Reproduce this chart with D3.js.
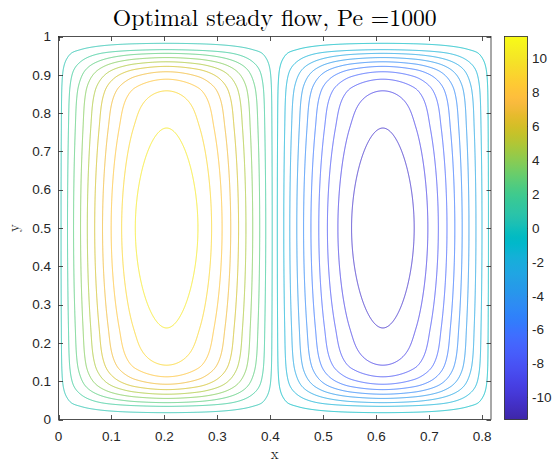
<!DOCTYPE html>
<html>
<head>
<meta charset="utf-8">
<script src="https://cdn.jsdelivr.net/npm/d3@7"></script>
<style>
  html, body { margin: 0; padding: 0; background: #ffffff; }
  svg { display: block; }
</style>
</head>
<body>
<svg id="chart" width="553" height="462"></svg>
<script>
// ---------------- data ----------------
const domainX = [0, 0.8165];
const domainY = [0, 1];
const cellWall = 0.40825;           // boundary between the two cells
const psiMax = 11.3;                // colour limits are [-psiMax, psiMax]
// contour levels (20 levels, 10 per cell)
const levels = [-10.224, -9.148, -8.071, -6.995, -5.919, -4.843, -3.767, -2.690, -1.614, -0.538,
                 0.538, 1.614, 2.690, 3.767, 4.843, 5.919, 6.995, 8.071, 9.148, 10.224];
// distance from side wall where each positive level (ascending) crosses y = 0.5
const xCross = [0.0048, 0.0170, 0.0284, 0.0416, 0.0544, 0.0683, 0.0831, 0.0994, 0.1192, 0.1450];
// distance from top/bottom wall where each level crosses the cell centre line
const yCross = [0.0178, 0.0343, 0.0440, 0.0550, 0.0660, 0.0780, 0.0920, 0.1115, 0.1418, 0.2390];
const xTicks = [0, 0.1, 0.2, 0.3, 0.4, 0.5, 0.6, 0.7, 0.8];
const yTicks = [0, 0.1, 0.2, 0.3, 0.4, 0.5, 0.6, 0.7, 0.8, 0.9, 1];
const cTicks = [-10, -8, -6, -4, -2, 0, 2, 4, 6, 8, 10];
const titleText = "Optimal steady flow, Pe =1000";
const xLabel = "x", yLabel = "y";
// MATLAB parula colormap (64 entries)
const parulaColors = [
[0.2422,0.1504,0.6603],[0.2504,0.1650,0.7076],[0.2578,0.1818,0.7511],[0.2647,0.1978,0.7952],
[0.2706,0.2147,0.8364],[0.2751,0.2342,0.8710],[0.2783,0.2559,0.8991],[0.2803,0.2782,0.9221],
[0.2813,0.3006,0.9414],[0.2810,0.3228,0.9579],[0.2795,0.3447,0.9717],[0.2760,0.3667,0.9829],
[0.2699,0.3892,0.9906],[0.2602,0.4123,0.9952],[0.2440,0.4358,0.9988],[0.2206,0.4603,0.9973],
[0.1963,0.4847,0.9892],[0.1834,0.5074,0.9798],[0.1786,0.5289,0.9682],[0.1764,0.5499,0.9520],
[0.1687,0.5703,0.9359],[0.1540,0.5902,0.9218],[0.1460,0.6091,0.9079],[0.1380,0.6276,0.8973],
[0.1248,0.6459,0.8883],[0.1113,0.6635,0.8763],[0.0952,0.6798,0.8598],[0.0689,0.6948,0.8394],
[0.0297,0.7082,0.8163],[0.0036,0.7203,0.7917],[0.0067,0.7312,0.7660],[0.0433,0.7411,0.7394],
[0.0964,0.7500,0.7120],[0.1408,0.7584,0.6842],[0.1717,0.7670,0.6554],[0.1938,0.7758,0.6251],
[0.2161,0.7843,0.5923],[0.2470,0.7918,0.5567],[0.2906,0.7973,0.5188],[0.3406,0.8008,0.4789],
[0.3909,0.8029,0.4354],[0.4456,0.8024,0.3909],[0.5044,0.7993,0.3480],[0.5616,0.7942,0.3045],
[0.6174,0.7876,0.2612],[0.6720,0.7793,0.2227],[0.7242,0.7698,0.1910],[0.7738,0.7598,0.1646],
[0.8203,0.7498,0.1535],[0.8634,0.7406,0.1596],[0.9035,0.7330,0.1774],[0.9393,0.7288,0.2100],
[0.9728,0.7298,0.2394],[0.9956,0.7434,0.2371],[0.9970,0.7659,0.2199],[0.9952,0.7893,0.2028],
[0.9892,0.8136,0.1885],[0.9786,0.8386,0.1766],[0.9676,0.8639,0.1643],[0.9610,0.8890,0.1537],
[0.9597,0.9135,0.1423],[0.9628,0.9373,0.1265],[0.9691,0.9606,0.1064],[0.9769,0.9839,0.0805]];

// ---------------- layout ----------------
const plot = { left: 58.5, right: 491, top: 36.5, bottom: 419.5 };
const cbar = { left: 504.5, right: 527.5 };
const axisColor = "#262626";
const sans = "'Liberation Sans', Arial, Helvetica, sans-serif";
const serif = "'Latin Modern Roman', 'CMU Serif', 'Liberation Serif', 'Times New Roman', serif";

const svg = d3.select("#chart");
const xScale = d3.scaleLinear().domain(domainX).range([plot.left, plot.right]);
const yScale = d3.scaleLinear().domain(domainY).range([plot.bottom, plot.top]);
const cScale = d3.scaleLinear().domain([-psiMax, psiMax]).range([plot.bottom, plot.top]);
const parula = d3.piecewise(d3.interpolateRgb, parulaColors.map(c => d3.rgb(c[0]*255, c[1]*255, c[2]*255)));
const colorOf = v => parula((v + psiMax) / (2 * psiMax));

// ---------- monotone cubic profile through measured crossings ----------
function monotone(xs, ys, endSlope) {
  const n = xs.length, m = [], t = new Array(n);
  for (let k = 0; k < n - 1; k++) m.push((ys[k+1]-ys[k])/(xs[k+1]-xs[k]));
  t[0] = m[0]; t[n-1] = endSlope;
  for (let k = 1; k < n - 1; k++) t[k] = (m[k-1]*m[k] <= 0) ? 0 : (m[k-1]+m[k])/2;
  for (let k = 0; k < n - 1; k++) {
    if (m[k] === 0) { t[k] = 0; t[k+1] = 0; continue; }
    const a = t[k]/m[k], b = t[k+1]/m[k], s = a*a + b*b;
    if (s > 9) { const tau = 3/Math.sqrt(s); t[k] = tau*a*m[k]; t[k+1] = tau*b*m[k]; }
  }
  return function(x) {
    if (x <= xs[0]) return ys[0];
    if (x >= xs[n-1]) return ys[n-1];
    let k = 0; while (x > xs[k+1]) k++;
    const h = xs[k+1]-xs[k], s = (x-xs[k])/h;
    const h00 = 2*s*s*s - 3*s*s + 1, h10 = s*s*s - 2*s*s + s, h01 = -2*s*s*s + 3*s*s, h11 = s*s*s - s*s;
    return h00*ys[k] + h10*h*t[k] + h01*ys[k+1] + h11*h*t[k+1];
  };
}
const posLevels = levels.filter(v => v > 0);
const rel = posLevels.map(v => v / psiMax);
const Fx = monotone([0, ...xCross, cellWall/2], [0, ...rel, 1], 0);
const Gy = monotone([0, ...yCross, 0.5], [0, ...rel, 1], 0);

// ---------- gridded stream function ----------
const nx = 866, ny = 766;
const values = new Float64Array(nx * ny);
const fCol = new Float64Array(nx), sCol = new Float64Array(nx), gRow = new Float64Array(ny);
for (let i = 0; i < nx; i++) {
  const x = (i + 0.5) / nx * domainX[1];
  let d, s;
  if (x < cellWall) { d = Math.min(x, cellWall - x); s = 1; }
  else { d = Math.min(x - cellWall, domainX[1] - x); s = -1; }
  fCol[i] = Fx(d); sCol[i] = s;
}
for (let j = 0; j < ny; j++) {
  const y = 1 - (j + 0.5) / ny;
  gRow[j] = Gy(Math.min(y, 1 - y));
}
for (let j = 0; j < ny; j++) for (let i = 0; i < nx; i++)
  values[j*nx + i] = sCol[i] * psiMax * fCol[i] * gRow[j];
const negValues = values.map(v => -v);

const proj = d3.geoTransform({
  point(X, Y) { this.stream.point(xScale(X / nx * domainX[1]), yScale(1 - Y / ny)); }
});
const path = d3.geoPath(proj);
const gen = d3.contours().size([nx, ny]);

const gC = svg.append("g").attr("fill", "none").attr("stroke-width", 0.9).attr("stroke-linejoin", "round");
posLevels.forEach(lv => {
  const c = gen.thresholds([lv])(values)[0];
  gC.append("path").attr("d", path(c)).attr("stroke", colorOf(lv));
});
levels.filter(v => v < 0).forEach(lv => {
  const c = gen.thresholds([-lv])(negValues)[0];
  gC.append("path").attr("d", path(c)).attr("stroke", colorOf(lv));
});

// ---------- axes box and ticks ----------
const tickLen = 4.5;
const gA = svg.append("g").attr("stroke", axisColor).attr("stroke-width", 0.8).attr("fill", "none");
gA.append("rect").attr("x", plot.left).attr("y", plot.top)
  .attr("width", plot.right - plot.left).attr("height", plot.bottom - plot.top);
xTicks.forEach(v => {
  const x = Math.round(xScale(v)) + 0.5;
  gA.append("line").attr("x1", x).attr("x2", x).attr("y1", plot.bottom).attr("y2", plot.bottom - tickLen);
  gA.append("line").attr("x1", x).attr("x2", x).attr("y1", plot.top).attr("y2", plot.top + tickLen);
});
yTicks.forEach(v => {
  const y = Math.round(yScale(v)) + 0.5;
  gA.append("line").attr("y1", y).attr("y2", y).attr("x1", plot.left).attr("x2", plot.left + tickLen);
  gA.append("line").attr("y1", y).attr("y2", y).attr("x1", plot.right).attr("x2", plot.right - tickLen);
});
const gT = svg.append("g").attr("fill", axisColor).attr("font-family", sans).attr("font-size", 13.5);
xTicks.forEach(v => {
  gT.append("text").attr("x", xScale(v)).attr("y", 441).attr("text-anchor", "middle").text(d3.format("~g")(v));
});
yTicks.forEach(v => {
  gT.append("text").attr("x", 51).attr("y", yScale(v)).attr("dy", "0.35em").attr("text-anchor", "end").text(d3.format("~g")(v));
});

// ---------- colorbar ----------
const grad = svg.append("defs").append("linearGradient").attr("id", "parulaGrad")
  .attr("x1", 0).attr("y1", 1).attr("x2", 0).attr("y2", 0);
parulaColors.forEach((c, k) => {
  grad.append("stop").attr("offset", k / (parulaColors.length - 1))
    .attr("stop-color", d3.rgb(c[0]*255, c[1]*255, c[2]*255));
});
svg.append("rect").attr("x", cbar.left).attr("y", plot.top)
  .attr("width", cbar.right - cbar.left).attr("height", plot.bottom - plot.top)
  .attr("fill", "url(#parulaGrad)").attr("stroke", axisColor).attr("stroke-width", 0.8);
cTicks.forEach(v => {
  const y = Math.round(cScale(v)) + 0.5;
  gA.append("line").attr("y1", y).attr("y2", y).attr("x1", cbar.right).attr("x2", cbar.right - 4);
  gT.append("text").attr("x", 532).attr("y", cScale(v)).attr("dy", "0.35em").attr("text-anchor", "start").text(v);
});

// ---------- title and labels ----------
const title = svg.append("text").attr("x", (plot.left + plot.right) / 2).attr("y", 26)
  .attr("text-anchor", "middle").attr("font-family", serif).attr("font-size", 24)
  .attr("fill", "#000").text(titleText);
const tw = title.node().getComputedTextLength();
title.attr("font-size", Math.min(25, 24 * 324 / tw));
svg.append("text").attr("x", (plot.left + plot.right) / 2).attr("y", 459)
  .attr("text-anchor", "middle").attr("font-family", serif).attr("font-size", 15)
  .attr("fill", axisColor).text(xLabel);
svg.append("text").attr("transform", `translate(19, ${(plot.top + plot.bottom) / 2}) rotate(-90)`)
  .attr("text-anchor", "middle").attr("font-family", serif).attr("font-size", 15)
  .attr("fill", axisColor).text(yLabel);
</script>
</body>
</html>
